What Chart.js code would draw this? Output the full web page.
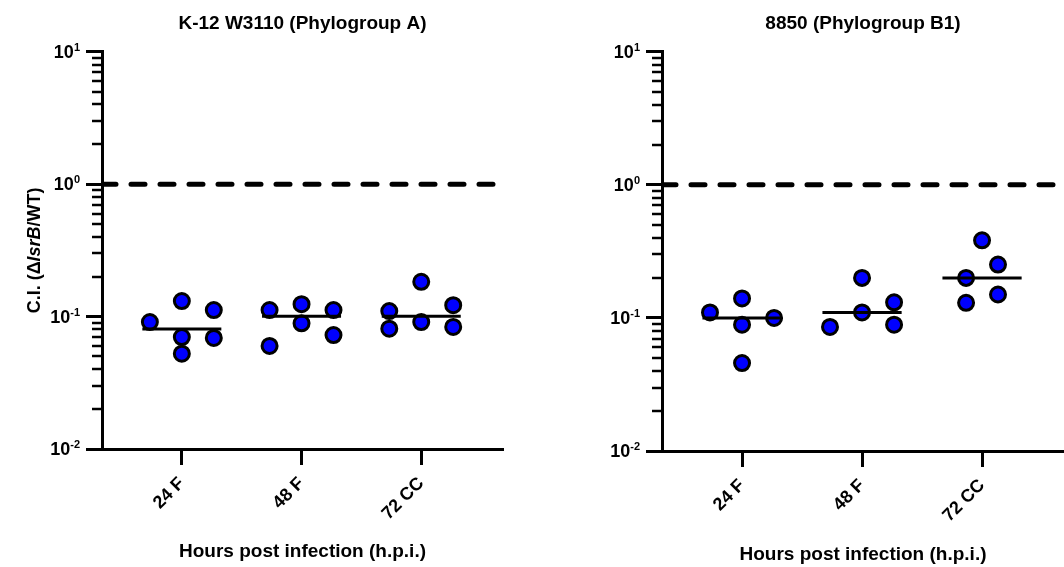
<!DOCTYPE html>
<html>
<head>
<meta charset="utf-8">
<script src="https://cdn.jsdelivr.net/npm/chart.js@4.4.0/dist/chart.umd.min.js"></script>
<style>
  body { margin: 0; background: #fff; }
  canvas { position: absolute; top: 0; }
</style>
</head>
<body>
<canvas id="left" width="532" height="567" style="left:0"></canvas>
<canvas id="right" width="532" height="567" style="left:532px"></canvas>
<script>
const categories = ['24 F', '48 F', '72 CC'];
const yTicks = [0.01, 0.1, 1, 10];
const referenceLevel = 1;

// K-12 W3110 (Phylogroup A), C.I. values per time point
const k12_24F = [0.091, 0.131, 0.070, 0.0525, 0.112, 0.069];
const k12_48F = [0.112, 0.060, 0.124, 0.089, 0.112, 0.0726];
const k12_72CC = [0.110, 0.081, 0.183, 0.091, 0.122, 0.0835];

// 8850 (Phylogroup B1)
const s8850_24F = [0.110, 0.140, 0.089, 0.0458, 0.100];
const s8850_48F = [0.0855, 0.200, 0.110, 0.131, 0.089];
const s8850_72CC = [0.200, 0.130, 0.383, 0.252, 0.150];

// which column of the scatter each point sits in (-1 left, 0 centre, 1 right)
const k12Cols = [[-1, 0, 0, 0, 1, 1], [-1, -1, 0, 0, 1, 1], [-1, -1, 0, 0, 1, 1]];
const s8850Cols = [[-1, 0, 0, 0, 1], [-1, 0, 0, 1, 1], [-1, -1, 0, 1, 1]];
const s8850Step = [0.267, 0.267, 0.133];

Chart.defaults.font.family = 'Arial, "Liberation Sans", sans-serif';
Chart.defaults.color = '#000';

const X_MIN = -0.667, X_MAX = 2.683;

function median(arr) {
  const s = [...arr].sort((a, b) => a - b);
  const n = s.length;
  return n % 2 ? s[(n - 1) / 2] : (s[n / 2 - 1] + s[n / 2]) / 2;
}

const axisDecor = {
  id: 'axisDecor',
  afterDraw(chart, args, opts) {
    const y = chart.scales.y;
    const ctx = chart.ctx;
    const left = chart.chartArea.left;
    ctx.save();
    ctx.strokeStyle = '#000';
    ctx.lineWidth = 2.5;
    // log minor ticks
    for (let k = -2; k < 1; k++) {
      for (let m = 2; m <= 9; m++) {
        const py = Math.round(y.getPixelForValue(m * Math.pow(10, k)));
        ctx.beginPath();
        ctx.moveTo(left - 10, py);
        ctx.lineTo(left, py);
        ctx.stroke();
      }
    }
    // 10^n labels
    ctx.fillStyle = '#000';
    ctx.textAlign = 'left';
    ctx.textBaseline = 'middle';
    yTicks.forEach(v => {
      const py = y.getPixelForValue(v);
      const exp = String(Math.round(Math.log10(v)));
      ctx.font = 'bold 18px Arial, "Liberation Sans", sans-serif';
      const w1 = ctx.measureText('10').width;
      ctx.font = 'bold 11px Arial, "Liberation Sans", sans-serif';
      const w2 = ctx.measureText(exp).width;
      const xr = left - 16 - 6;
      ctx.font = 'bold 18px Arial, "Liberation Sans", sans-serif';
      ctx.fillText('10', xr - w1 - w2, py + 1);
      ctx.font = 'bold 11px Arial, "Liberation Sans", sans-serif';
      ctx.fillText(exp, xr - w2, py - 4);
    });
    // y title with italic gene name
    if (opts.yTitle) {
      const parts = [
        {t: 'C.I. (\u0394', f: 'bold 18px Arial, "Liberation Sans", sans-serif'},
        {t: 'lsrB', f: 'italic bold 18px Arial, "Liberation Sans", sans-serif'},
        {t: '/WT)', f: 'bold 18px Arial, "Liberation Sans", sans-serif'}
      ];
      let total = 0;
      parts.forEach(p => { ctx.font = p.f; p.w = ctx.measureText(p.t).width; total += p.w; });
      const cy = (chart.chartArea.top + chart.chartArea.bottom) / 2;
      ctx.translate(35, cy);
      ctx.rotate(-Math.PI / 2);
      let x = -total / 2;
      parts.forEach(p => { ctx.font = p.f; ctx.fillText(p.t, x, 0); x += p.w; });
    }
    ctx.restore();
  }
};

function makeChart(id, title, groups, cols, steps, opt) {
  const datasets = [];
  datasets.push({
    type: 'line',
    data: [{x: X_MIN, y: referenceLevel}, {x: X_MAX, y: referenceLevel}],
    borderColor: '#000',
    borderWidth: 5,
    borderDash: [14, 15],
    borderCapStyle: 'round',
    pointRadius: 0,
    order: 3
  });
  groups.forEach((vals, ci) => {
    datasets.push({
      data: vals.map((v, i) => ({x: ci + cols[ci][i] * steps[ci], y: v})),
      backgroundColor: '#0000ff',
      borderColor: '#000',
      borderWidth: 3,
      pointRadius: 7.5,
      order: 2
    });
    const m = median(vals);
    datasets.push({
      type: 'line',
      data: [{x: ci - 0.33, y: m}, {x: ci + 0.33, y: m}],
      borderColor: '#000',
      borderWidth: 3,
      pointRadius: 0,
      order: 1
    });
  });

  return new Chart(document.getElementById(id), {
    type: 'scatter',
    data: {datasets},
    plugins: [axisDecor],
    options: {
      responsive: false,
      animation: false,
      events: [],
      layout: {autoPadding: false, padding: {left: 0, right: opt.padRight, top: 0, bottom: 0}},
      plugins: {
        legend: {display: false},
        tooltip: {enabled: false},
        title: {
          display: true,
          text: title,
          fullSize: false,
          color: '#000',
          font: {size: 19, weight: 'bold'},
          padding: {top: 12, bottom: 17}
        },
        axisDecor: {yTitle: opt.yTitle}
      },
      scales: {
        x: {
          type: 'linear',
          min: X_MIN,
          max: X_MAX,
          afterBuildTicks: s => { s.ticks = categories.map((c, i) => ({value: i})); },
          afterFit: s => {
            s.height = 567 - opt.bottom;
            s.paddingLeft = 0;
            s.paddingRight = 0;
          },
          ticks: {
            callback: v => categories[v],
            minRotation: 45,
            maxRotation: 45,
            padding: 8,
            color: '#000',
            font: {size: 18, weight: 'bold'}
          },
          grid: {drawOnChartArea: false, tickLength: 16, tickWidth: 3, color: '#000'},
          border: {width: 3, color: '#000'},
          title: {
            display: true,
            text: 'Hours post infection (h.p.i.)',
            color: '#000',
            font: {size: 19, weight: 'bold'},
            padding: {top: 0, bottom: opt.titleBottom}
          }
        },
        y: {
          type: 'logarithmic',
          min: 0.01,
          max: 10,
          afterBuildTicks: s => { s.ticks = yTicks.map(v => ({value: v})); },
          afterFit: s => { s.width = opt.left; },
          ticks: {display: false},
          grid: {drawOnChartArea: false, tickLength: 16, tickWidth: 3, color: '#000'},
          border: {width: 3, color: '#000'}
        }
      }
    }
  });
}

makeChart('left', 'K-12 W3110 (Phylogroup A)', [k12_24F, k12_48F, k12_72CC], k12Cols,
  [0.267, 0.267, 0.267], {left: 102, padRight: 29, bottom: 449, titleBottom: 4, yTitle: true});
makeChart('right', '8850 (Phylogroup B1)', [s8850_24F, s8850_48F, s8850_72CC], s8850Cols,
  s8850Step, {left: 130, padRight: 0, bottom: 451, titleBottom: 1, yTitle: false});
</script>
</body>
</html>
